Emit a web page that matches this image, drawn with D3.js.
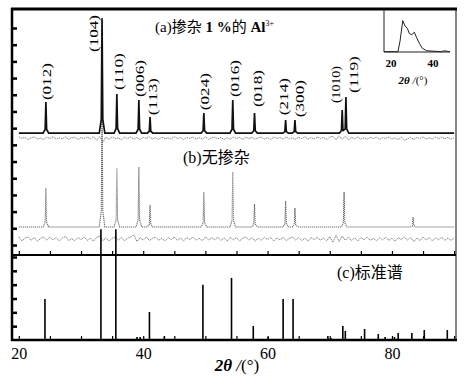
<!DOCTYPE html>
<html><head><meta charset="utf-8">
<script src="https://cdn.jsdelivr.net/npm/d3@7"></script>
<style>body{margin:0;background:#fff}</style>
</head><body><div id="chart"></div>
<script>
// peaks of pattern (a), 1 % Al doped
const peakPosA = [24.35, 33.38, 35.76, 39.3, 41.1, 49.75, 54.4, 57.9, 62.9, 64.4, 72.0, 72.6];
const heightsA = [1.86, 6.89, 2.34, 1.98, 0.96, 1.2, 1.98, 1.2, 0.78, 0.78, 1.38, 2.16];
// hkl labels and where they sit
const hklLabels = ["(012)", "(104)", "(110)", "(006)", "(113)", "(024)", "(016)", "(018)", "(214)", "(300)", "(1010)", "(119)"];
const labelPos = [24.37, 31.93, 35.95, 39.33, 41.42, 49.78, 54.61, 58.31, 62.49, 65.14, 71.0, 73.74];
const labelBase = [8.68, 11.56, 9.28, 8.86, 7.78, 8.08, 8.86, 8.26, 7.78, 7.66, 8.5, 9.1];
// peaks of pattern (b), undoped
const peakPosB = [24.35, 33.38, 35.76, 39.3, 41.1, 49.75, 54.4, 57.9, 62.9, 64.4, 72.3, 83.4];
const heightsB = [2.34, 8.0, 3.53, 3.59, 1.32, 2.1, 3.3, 1.38, 1.56, 1.14, 2.1, 0.6];
// vertical stacking of the curves
const offsetA = 6.7, offsetB = 1.08, offsetDiffA = 6.4, offsetDiffB = 0.36;
// difference curves, 20..90 step 0.5
const diffA = [0.08,-0.02,0.05,-0.09,0.03,0.07,-0.05,0.01,
  -0.08,0.06,-0.03,0.09,-0.06,0.02,-0.04,0.08,-0.07,0.03,
  0.05,-0.08,0.04,-0.02,0.07,-0.05,0.09,-0.12,0.10,-0.25,
  0.06,-0.07,0.08,-0.04,0.02,-0.09,0.06,-0.03,0.07,-0.06,
  0.04,-0.08,0.05,-0.02,0.08,-0.05,0.03,-0.07,0.06,-0.04,
  0.02,-0.06,0.09,-0.03,0.05,-0.08,0.04,-0.01,0.07,-0.06,
  0.03,-0.05,0.08,-0.07,0.02,0.06,-0.04,0.05,-0.09,0.03,
  -0.06,0.07,-0.02,0.04,-0.08,0.06,-0.03,0.05,-0.07,0.02,
  0.06,-0.05,0.03,-0.08,0.07,-0.02,0.04,-0.06,0.08,-0.04,
  0.02,-0.07,0.05,-0.03,0.09,-0.06,0.03,-0.05,0.07,-0.02,
  0.04,-0.08,0.06,0.12,-0.10,0.14,-0.06,0.10,-0.09,0.05,
  -0.04,0.08,-0.06,0.03,-0.07,0.05,-0.02,0.06,-0.08,0.04,
  -0.03,0.07,-0.05,0.02,-0.09,0.06,-0.12,-0.04,0.05,-0.07,
  0.04,-0.02,0.08,-0.06,0.03,-0.05,0.07,-0.03,0.06,-0.04,
  0.05,-0.06,0.03];
const diffB = [0.14,-0.12,0.05,0.12,-0.08,0.09,-0.14,0.04,
  0.11,-0.07,0.13,-0.05,0.08,-0.12,0.06,0.15,-0.09,0.03,
  -0.11,0.08,-0.04,0.12,-0.08,0.05,-0.13,0.09,0.18,-0.10,
  0.07,-0.12,0.05,0.11,-0.06,0.09,-0.10,0.04,0.13,0.25,
  -0.15,0.08,-0.06,0.12,-0.09,0.05,0.10,-0.07,0.03,-0.11,
  0.08,-0.04,0.12,-0.08,0.06,-0.12,0.09,-0.03,0.11,-0.07,
  0.05,-0.10,0.13,-0.06,0.08,-0.04,0.11,-0.09,0.06,-0.12,
  0.10,-0.05,0.08,-0.11,0.04,0.12,-0.07,0.09,-0.13,0.06,
  -0.08,0.11,-0.04,0.09,-0.12,0.07,-0.05,0.10,-0.09,0.04,
  0.12,-0.06,0.08,-0.10,0.05,-0.13,0.09,-0.04,0.11,-0.08,
  0.06,-0.11,0.14,-0.20,0.22,-0.16,0.18,-0.08,0.12,-0.10,
  0.07,-0.12,0.09,-0.05,0.11,-0.08,0.04,-0.11,0.08,-0.06,
  0.10,-0.09,0.05,-0.13,0.08,-0.04,0.12,-0.07,0.09,-0.16,
  0.06,-0.10,0.12,-0.05,0.08,-0.11,0.07,-0.04,0.10,-0.08,
  0.05,-0.09,0.07];
// (c) standard pattern sticks
const stdPos = [24.2, 33.2, 35.6, 39.0, 39.5, 41.0, 43.4, 49.6, 54.2, 56.2, 57.7, 60.1, 62.5, 64.1, 69.7, 70.2, 72.1, 72.5, 75.6, 77.8, 78.9, 80.4, 81.0, 83.2, 85.2, 88.9];
const stdInt = [2.97, 8.0, 8.0, 0.22, 0.22, 2.03, 0.29, 3.99, 4.49, 0.07, 1.01, 0.22, 2.97, 2.97, 0.29, 0.15, 1.01, 0.65, 0.8, 0.43, 0.22, 0.22, 0.51, 0.51, 0.72, 0.72];
// inset curve
const insetX = [16.7, 23.3, 24.3, 25.6, 26.7, 27.8, 28.7, 29.8, 31.1, 32.2, 33.5, 34.9, 37, 44.1, 45.2, 48.1];
const insetY = [0.01, 0.01, 0.35, 1.01, 0.84, 0.76, 0.6, 0.55, 0.64, 0.46, 0.28, 0.12, 0.04, 0.01, 0.04, 0.01];
const xTicks = [20, 40, 60, 80];

const width = 464, height = 385;
const serif = "'Liberation Serif','Times New Roman',serif";
const cjk = "'Noto Sans CJK SC',sans-serif";

const svg = d3.select("#chart").append("svg")
    .attr("width", width).attr("height", height)
    .style("font-family", serif);

const x = d3.scaleLinear().domain([18.9, 90.3]).range([12, 456]);
const yU = d3.scaleLinear().domain([0, 13]).range([245, 28]);
const yL = d3.scaleLinear().domain([0, 6]).range([340, 257]);

// piecewise peak shape
function shape(d) {
    d = Math.abs(d);
    if (d >= 0.45) return 0;
    if (d <= 0.12) return 1 - (d / 0.12) * 0.88;
    return 0.12 * (0.45 - d) / 0.33;
}
function profile(pos, hts) {
    const xs = new Set([20, 90]);
    pos.forEach(p => [-0.45, -0.12, 0, 0.12, 0.45].forEach(d => xs.add(+(p + d).toFixed(3))));
    return Array.from(xs).sort((a, b) => a - b)
        .map(t => [t, d3.max(pos, (p, i) => shape(t - p) * hts[i])]);
}

const lineU = d3.line().x(d => x(d[0])).y(d => yU(d[1]));

// difference curves
svg.append("path")
    .attr("d", lineU(diffA.map((v, i) => [20 + i * 0.5, offsetDiffA + v])))
    .attr("fill", "none").attr("stroke", "#777").attr("stroke-width", 0.9)
    .attr("stroke-dasharray", "1.5,0.7");
svg.append("path")
    .attr("d", lineU(diffB.map((v, i) => [20 + i * 0.5, offsetDiffB + v])))
    .attr("fill", "none").attr("stroke", "#777").attr("stroke-width", 0.9)
    .attr("stroke-dasharray", "1.5,0.7");

// pattern (b), dotted grey
svg.append("path")
    .attr("d", lineU(profile(peakPosB, heightsB).map(d => [d[0], offsetB + d[1]])))
    .attr("fill", "none").attr("stroke", "#666").attr("stroke-width", 1.1)
    .attr("stroke-dasharray", "1.2,0.8");

// pattern (a), solid black
svg.append("path")
    .attr("d", lineU(profile(peakPosA, heightsA).map(d => [d[0], offsetA + d[1]])))
    .attr("fill", "none").attr("stroke", "#111").attr("stroke-width", 1.7);

// standard sticks
svg.selectAll(".stick").data(stdPos).join("line")
    .attr("x1", d => x(d)).attr("x2", d => x(d))
    .attr("y1", yL(0)).attr("y2", (d, i) => yL(stdInt[i]))
    .attr("stroke", "#000").attr("stroke-width", 1.6);

// hkl labels
svg.selectAll(".hkl").data(hklLabels).join("text")
    .attr("transform", (d, i) => `translate(${x(labelPos[i])},${yU(labelBase[i]) - 18.5}) rotate(-90)`)
    .attr("text-anchor", "middle").attr("dominant-baseline", "central")
    .attr("textLength", 37).attr("lengthAdjust", "spacingAndGlyphs")
    .style("font-size", "13.5px").text(d => d);

// frame
const fr = svg.append("g").attr("fill", "none").attr("stroke", "#000");
fr.append("line").attr("x1", 456).attr("x2", 456).attr("y1", 9).attr("y2", 340).attr("stroke", "#444").attr("stroke-width", 1.3);
fr.append("line").attr("x1", 12).attr("x2", 12).attr("y1", 8).attr("y2", 341).attr("stroke-width", 2.5);
fr.append("line").attr("x1", 11).attr("x2", 457).attr("y1", 9).attr("y2", 9).attr("stroke-width", 3);
fr.append("line").attr("x1", 11).attr("x2", 457).attr("y1", 340).attr("y2", 340).attr("stroke-width", 2.5);
fr.append("line").attr("x1", 12).attr("x2", 456).attr("y1", 255).attr("y2", 255).attr("stroke-width", 2);

// ticks
const minor = d3.range(20, 91, 5);
[255, 340].forEach(yy => {
    svg.append("g").attr("transform", `translate(0,${yy})`)
        .call(d3.axisBottom(x).tickValues(minor).tickSize(-4).tickFormat(""))
        .call(g => g.select(".domain").remove())
        .selectAll("line").attr("stroke-width", 1.2);
});
svg.append("g").attr("transform", "translate(12,0)")
    .call(d3.axisRight(yU).tickValues(d3.range(0, 14)).tickSize(5).tickFormat(""))
    .call(g => g.select(".domain").remove())
    .selectAll("line").attr("stroke-width", 2.5);
svg.append("g").attr("transform", "translate(12,0)")
    .call(d3.axisRight(yL).tickValues(d3.range(1, 7)).tickSize(5).tickFormat(""))
    .call(g => g.select(".domain").remove())
    .selectAll("line").attr("stroke-width", 2.5);

// x tick labels
svg.append("g").attr("transform", "translate(0,340)")
    .call(d3.axisBottom(x).tickValues(xTicks).tickSize(0).tickPadding(8))
    .call(g => g.select(".domain").remove())
    .selectAll("text").style("font-size", "16px").style("font-family", serif).attr("fill", "#000");

// axis title
const xt = svg.append("text").attr("x", 237).attr("y", 371).attr("text-anchor", "middle").style("font-size", "17px");
xt.append("tspan").style("font-style", "italic").style("font-weight", "bold").text("2θ");
xt.append("tspan").style("font-style", "italic").text(" /");
xt.append("tspan").text("(°)");

// panel titles
const ta = svg.append("text").attr("x", 155).attr("y", 32).style("font-size", "15px");
ta.append("tspan").text("(a)");
ta.append("tspan").style("font-family", cjk).text("掺杂");
ta.append("tspan").style("font-weight", "bold").text(" 1 %");
ta.append("tspan").style("font-family", cjk).text("的");
ta.append("tspan").style("font-weight", "bold").text(" Al");
ta.append("tspan").attr("dy", -6).style("font-size", "8px").text("3+");

const tb = svg.append("text").attr("x", 183).attr("y", 163).style("font-size", "16px");
tb.append("tspan").text("(b)");
tb.append("tspan").style("font-family", cjk).text("无掺杂");

const tc = svg.append("text").attr("x", 337).attr("y", 278).style("font-size", "16px");
tc.append("tspan").text("(c)");
tc.append("tspan").style("font-family", cjk).text("标准谱");

// inset
const xi = d3.scaleLinear().domain([20, 40]).range([391, 433]);
const yi = d3.scaleLinear().domain([0, 1]).range([52, 21]);
const inset = svg.append("g");
inset.append("line").attr("x1", 384).attr("x2", 384).attr("y1", 10).attr("y2", 52).attr("stroke", "#222").attr("stroke-width", 1);
inset.append("line").attr("x1", 384).attr("x2", 450).attr("y1", 52).attr("y2", 52).attr("stroke", "#222").attr("stroke-width", 1);
inset.append("path")
    .attr("d", d3.line().x(d => xi(d[0])).y(d => yi(d[1]))(insetX.map((v, i) => [v, insetY[i]])))
    .attr("fill", "none").attr("stroke", "#222").attr("stroke-width", 1);
inset.selectAll(".it").data([20, 40]).join("text")
    .attr("x", d => xi(d)).attr("y", 67).attr("text-anchor", "middle")
    .style("font-size", "11px").style("font-weight", "bold").text(d => d);
const it = inset.append("text").attr("x", 413).attr("y", 84).attr("text-anchor", "middle").style("font-size", "11px");
it.append("tspan").style("font-style", "italic").style("font-weight", "bold").text("2θ");
it.append("tspan").style("font-style", "italic").text(" /");
it.append("tspan").text("(°)");
</script>
</body></html>
